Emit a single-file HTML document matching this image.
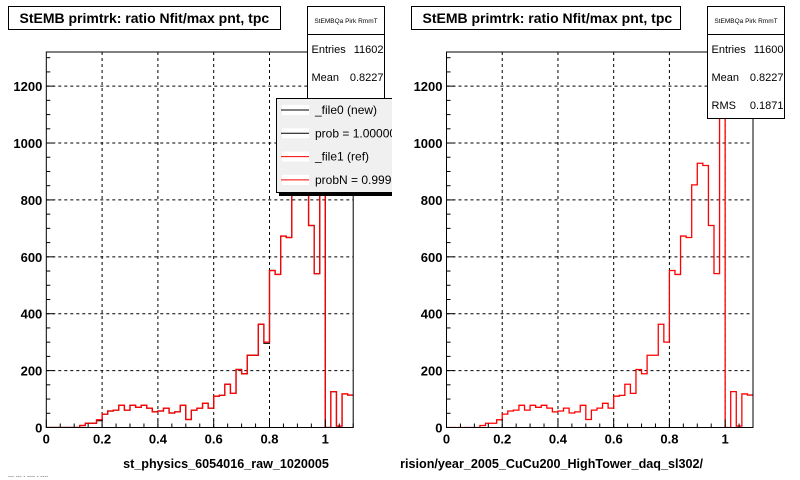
<!DOCTYPE html>
<html><head><meta charset="utf-8"><style>
html,body{margin:0;padding:0;background:#fff;width:800px;height:480px;overflow:hidden}
svg text{font-family:"Liberation Sans",Arial,sans-serif}
</style></head><body>
<svg id="c" width="800" height="480" viewBox="0 0 800 480" xmlns="http://www.w3.org/2000/svg">
<defs>
<clipPath id="padL"><rect x="0" y="0" width="392" height="480"/></clipPath>
<clipPath id="padR"><rect x="400" y="0" width="400" height="480"/></clipPath>
</defs>
<g id="left" clip-path="url(#padL)"></g>
<g id="right" clip-path="url(#padR)"></g>
</svg>
<script>
const binEdges = [0, 1.1];
const nBins = 55;
const refValues = [0,0,0,0,0,0,7,15,15,27,47,58,61,78,61,78,71,78,68,55,58,68,51,55,78,28,61,68,85,68,110,113,152,120,204,189,254,254,363,300,552,538,673,668,853,929,921,710,541,1258,0,126,5,118,114];
const newValues = [0,0,0,0,0,0,7,15,15,24,47,58,61,78,61,78,71,78,68,55,58,68,51,55,78,28,61,68,85,68,110,113,152,120,204,189,254,254,363,296,552,538,673,668,853,929,921,710,541,1258,0,126,5,118,114];
const xTicks = [0,0.2,0.4,0.6,0.8,1];
const xTickLabels = ["0","0.2","0.4","0.6","0.8","1"];
const yTicks = [0,200,400,600,800,1000,1200];
const yTickLabels = ["0","200","400","600","800","1000","1200"];
const yMax = 1320;
const NS = "http://www.w3.org/2000/svg";
function mk(parent, tag, attrs, text){
  const e = document.createElementNS(NS, tag);
  for (const k in attrs) e.setAttribute(k, attrs[k]);
  if (text !== undefined) e.textContent = text;
  parent.appendChild(e);
  return e;
}
function drawPad(g, x0, x1, opts){
  const yTop = 52, yBot = 427.5;
  const sx = v => x0 + (v - binEdges[0]) / (binEdges[1] - binEdges[0]) * (x1 - x0);
  const sy = v => yBot - Math.min(v, yMax * 1.5) / yMax * (yBot - yTop);
  xTicks.forEach((t, i) => {
    if (t === 0) return;
    const l = mk(g, 'line', {x1: sx(t), x2: sx(t), y1: yTop, y2: yBot, stroke: '#000', 'stroke-dasharray': '3,3', 'stroke-width': 1});
    
    
  });
  yTicks.forEach(t => {
    if (t === 0) return;
    const l = mk(g, 'line', {x1: x0, x2: x1, y1: sy(t), y2: sy(t), stroke: '#000', 'stroke-dasharray': '3,3', 'stroke-width': 1});
    
    
  });
  const bw = (binEdges[1] - binEdges[0]) / nBins;
  function hist(vals, color, name, w){
    let d = 'M' + sx(0) + ',' + sy(0);
    vals.forEach((v, i) => {
      const a = sx(binEdges[0] + i * bw), b = sx(binEdges[0] + (i + 1) * bw);
      d += ' L' + a + ',' + sy(v) + ' L' + b + ',' + sy(v);
    });
    const clip = mk(g, 'clipPath', {id: 'cl' + name});
    mk(clip, 'rect', {x: x0, y: yTop, width: x1 - x0, height: yBot - yTop});
    const p = mk(g, 'path', {d: d, fill: 'none', stroke: color, 'stroke-width': w, 'clip-path': 'url(#cl' + name + ')'});
    
    
  }
  if (opts.black) hist(newValues, '#000', opts.id + '-new-histogram', 1.2);
  hist(refValues, '#f00', opts.id + '-ref-histogram', 1.3);
  const fr = mk(g, 'rect', {x: x0, y: yTop, width: x1 - x0, height: yBot - yTop, fill: 'none', stroke: '#000', 'stroke-width': 1});
  
  
  for (let v = 0; v <= yMax; v += 50) {
    const major = v % 200 === 0;
    const t = mk(g, 'line', {x1: x0, x2: x0 + (major ? 8 : 4), y1: sy(v), y2: sy(v), stroke: '#000'});
    
    
  }
  yTicks.forEach((t, i) => {
    const tx = mk(g, 'text', {x: x0 - 4, y: sy(t) + 5, 'text-anchor': 'end', 'font-size': 13, 'font-weight': 'bold'}, yTickLabels[i]);
    
    
  });
  for (let k = 0; k <= 22; k++) {
    const v = k * 0.05;
    const major = k % 4 === 0;
    const t = mk(g, 'line', {x1: sx(v), x2: sx(v), y1: yBot, y2: yBot - (major ? 8 : 4), stroke: '#000'});
    
    
  }
  xTicks.forEach((t, i) => {
    const tx = mk(g, 'text', {x: sx(t), y: yBot + 16, 'text-anchor': 'middle', 'font-size': 13, 'font-weight': 'bold'}, xTickLabels[i]);
    
    
  });
}
const L = document.getElementById('left');
const R = document.getElementById('right');
drawPad(L, 46.3, 353.2, {id: 'left', black: true});
drawPad(R, 446.5, 753, {id: 'right', black: false});

function titleBox(g, x, w){
  const r = mk(g, 'rect', {x: x, y: 6.5, width: w, height: 23, fill: '#fff', stroke: '#000'});
  
  
  const t = mk(g, 'text', {x: x + 11, y: 23, 'font-size': 14, 'font-weight': 'bold'}, 'StEMB primtrk: ratio Nfit/max pnt, tpc');
  
  
}
titleBox(L, 8.5, 272);
titleBox(R, 411.5, 269);

function statsBox(g, x, w, h, rows){
  const r = mk(g, 'rect', {x: x, y: 6.5, width: w, height: h, fill: '#fff', stroke: '#000'});
  
  
  mk(g, 'line', {x1: x, x2: x + w, y1: 34.5, y2: 34.5, stroke: '#000'});
  const hd = mk(g, 'text', {x: x + w / 2, y: 23, 'text-anchor': 'middle', 'font-size': 6.5}, 'StEMBQa Pirk RmmT');
  
  
  rows.forEach((row, i) => {
    const y = 53 + i * 28;
    const a = mk(g, 'text', {x: x + 4, y: y, 'font-size': 11}, row[0]);
    
    
    const b = mk(g, 'text', {x: x + w - 1, y: y, 'text-anchor': 'end', 'font-size': 11}, row[1]);
    
    
  });
}
statsBox(L, 307.5, 77, 92, [['Entries', '11602'], ['Mean', '0.8227'], ['RMS', '0.1871']]);
statsBox(R, 707.5, 77, 112, [['Entries', '11600'], ['Mean', '0.8227'], ['RMS', '0.1871']]);

const sh = mk(L, 'rect', {x: 279, y: 101, width: 120, height: 95, fill: '#000'});


const lg = mk(L, 'rect', {x: 276.5, y: 98.5, width: 120, height: 94, fill: '#f0f0f0', stroke: '#000'});


const legendLabels = ['_file0 (new)', 'prob = 1.000000', '_file1 (ref)', 'probN = 0.99994'];
const legendColors = ['#000', '#000', '#f00', '#f00'];
legendLabels.forEach((s, i) => {
  const y = 110 + i * 23.3;
  mk(L, 'rect', {x: 282, y: y - 5, width: 27, height: 10, fill: '#fff'});
  const ln = mk(L, 'line', {x1: 281, x2: 309, y1: y, y2: y, stroke: legendColors[i]});
  
  
  const t = mk(L, 'text', {x: 315, y: y + 4, 'font-size': 12}, s);
  
  
});

const xl = mk(L, 'text', {x: 226, y: 468, 'text-anchor': 'middle', 'font-size': 12.6, 'font-weight': 'bold'}, 'st_physics_6054016_raw_1020005');


const xr = mk(R, 'text', {x: 703, y: 468, 'text-anchor': 'end', 'font-size': 12.6, 'font-weight': 'bold'}, 'comparision/year_2005_CuCu200_HighTower_daq_sl302/');


const ft = mk(L, 'text', {x: 8, y: 478, 'font-size': 6, fill: '#555'}, '--- ---  - ---- - ----');


</script>
</body></html>
